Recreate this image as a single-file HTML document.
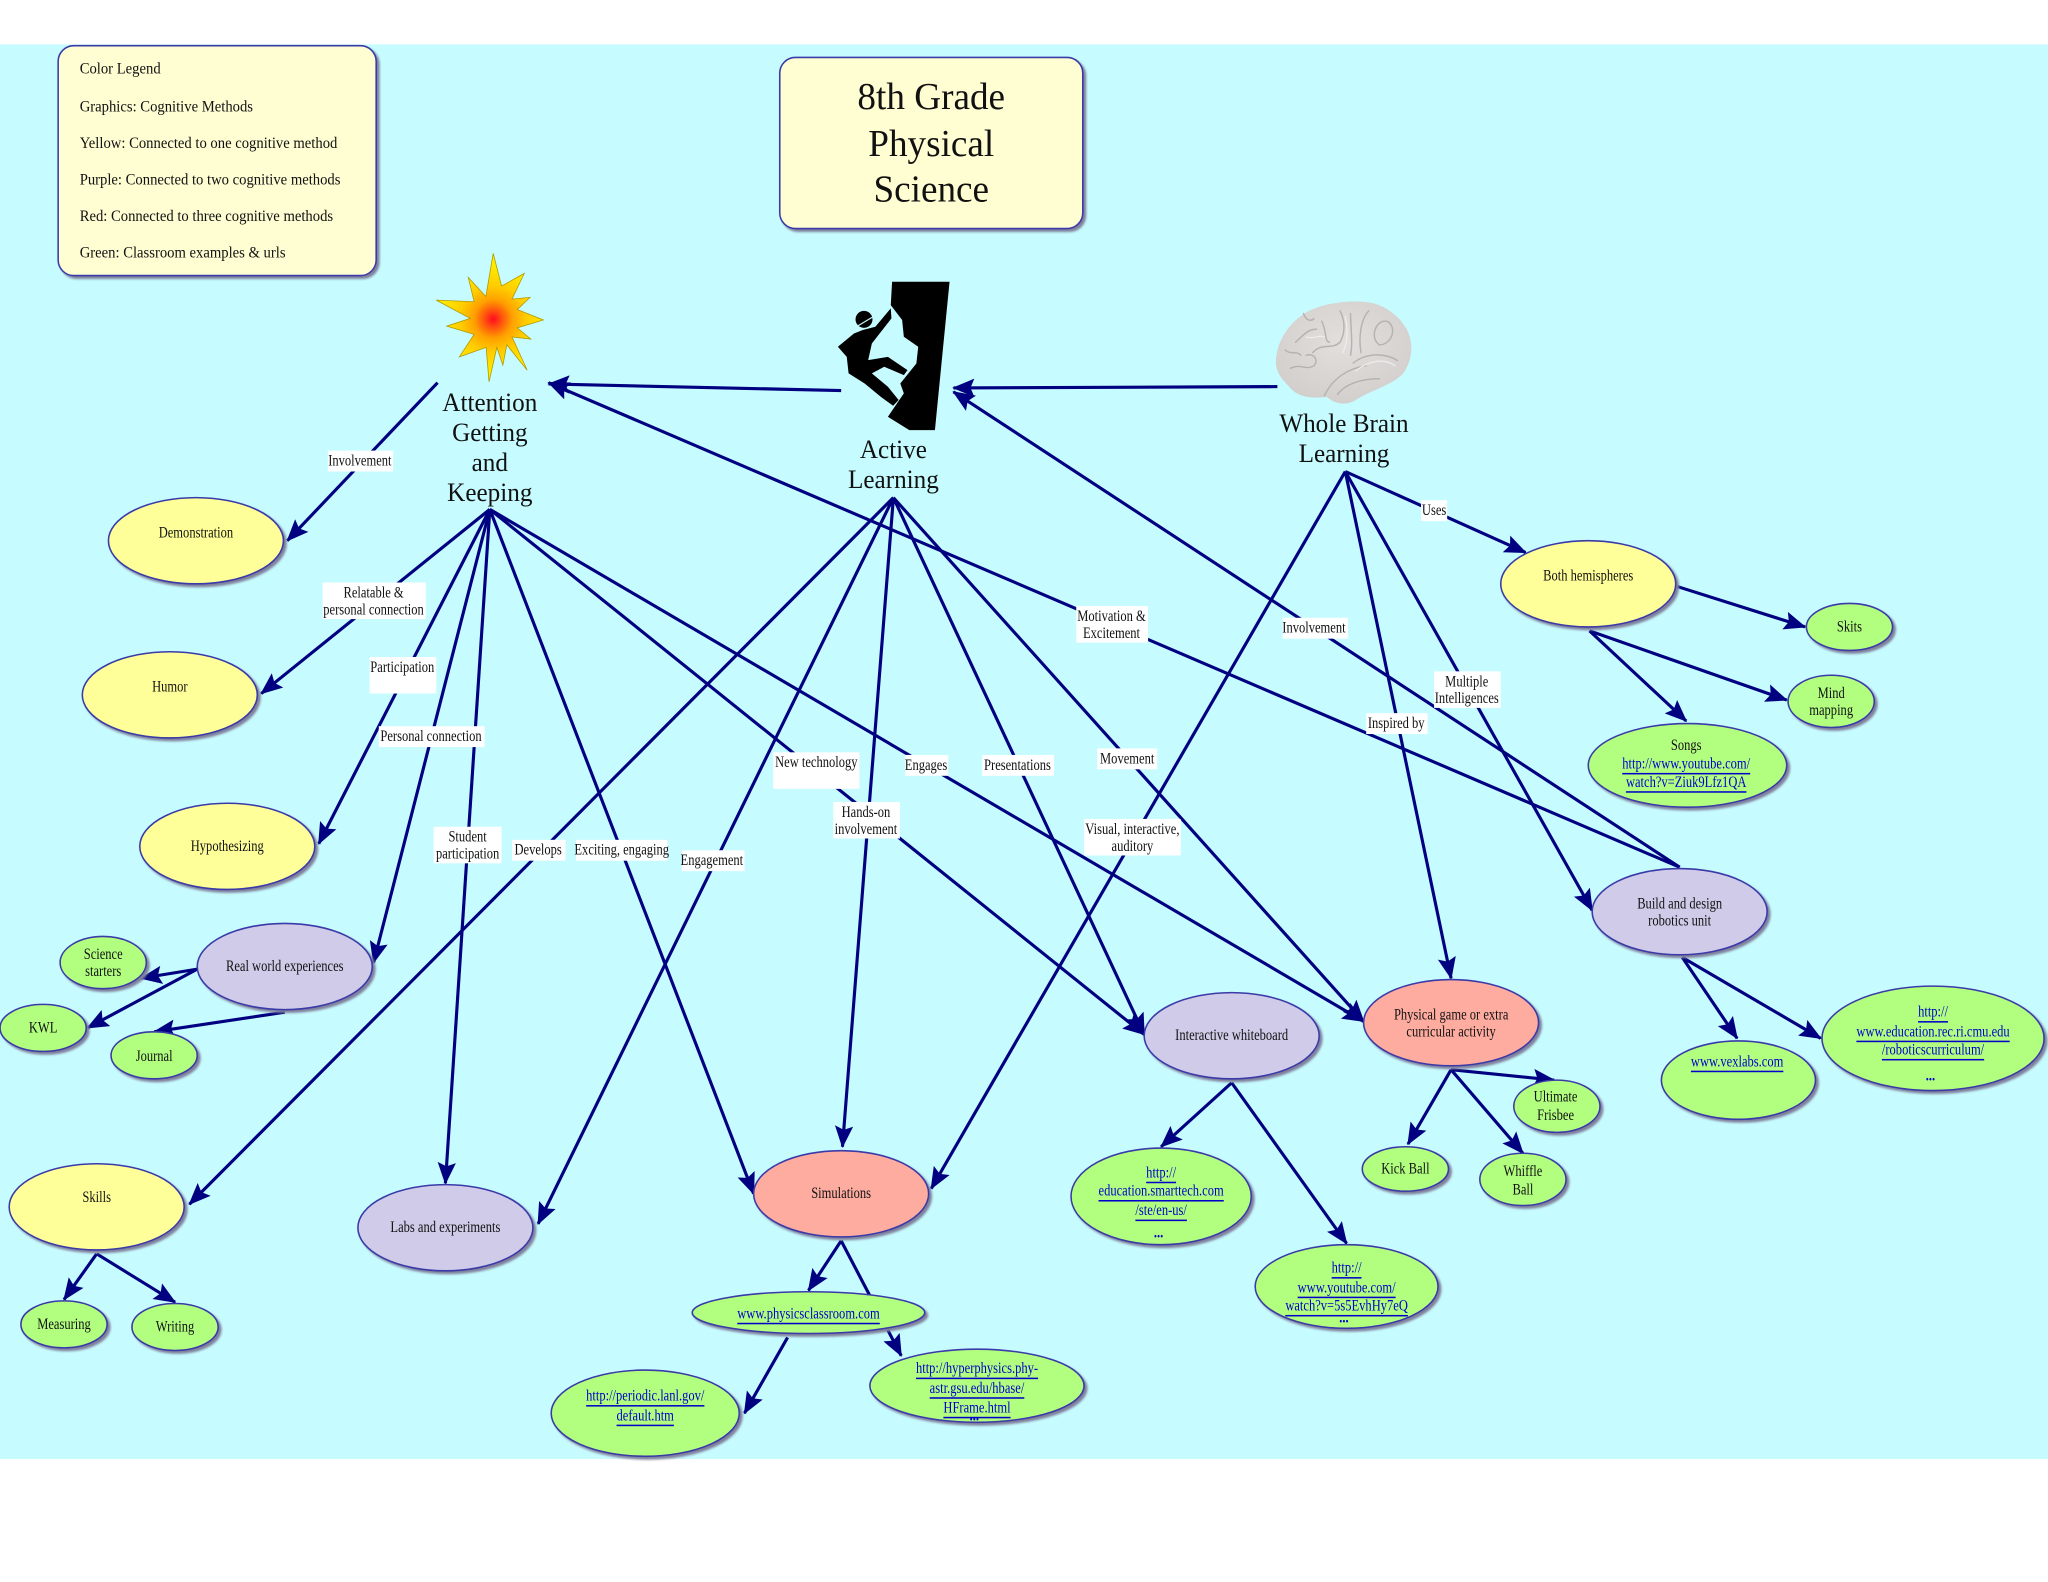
<!DOCTYPE html>
<html>
<head>
<meta charset="utf-8">
<title>8th Grade Physical Science</title>
<style>
html,body{margin:0;padding:0;background:#fff}
svg{display:block}
text{font-family:"Liberation Serif",serif;font-size:11.7px;fill:#111;text-anchor:middle;dominant-baseline:central;transform-box:fill-box;transform-origin:center;transform:translateY(.5px) scaleX(.82)}
.l text{text-anchor:start;font-size:12.2px;transform-origin:left center;transform:translateY(.7px) scaleX(.92)}
text.big{font-size:20.5px;transform:scaleX(.94)}
text.title{font-size:29.5px;transform:scaleX(.965)}
.u{fill:#0000c8;text-decoration:underline}
.dots{fill:#0000c8;font-weight:bold}
.n ellipse,.box{stroke:#3a3aa8;stroke-width:1.2;filter:drop-shadow(2.6px 2.6px .8px #80809c)}
.y{fill:#ffff99}.p{fill:#cfcbe8}.r{fill:#ffaca0}.g{fill:#b2ff80}
.e line{stroke:#000080;stroke-width:2.4;marker-end:url(#a)}
.w rect{fill:#fff}
</style>
</head>
<body>
<svg xmlns="http://www.w3.org/2000/svg" width="2048" height="1582" viewBox="0 0 1568 1211.25">
<defs>
<marker id="a" markerUnits="userSpaceOnUse" markerWidth="20" markerHeight="16" refX="16" refY="7" orient="auto">
<polygon points="0,0 17,7 0,14 3,7" fill="#000080"/>
</marker>
<radialGradient id="sg" gradientUnits="userSpaceOnUse" cx="377.6" cy="244.3" r="42">
<stop offset="0" stop-color="#ff0a20"/><stop offset=".14" stop-color="#ff4a10"/><stop offset=".35" stop-color="#ffa000"/><stop offset=".6" stop-color="#ffcc00"/><stop offset="1" stop-color="#ffee00"/>
</radialGradient>
<radialGradient id="bg" cx=".5" cy=".4" r=".7">
<stop offset="0" stop-color="#e2dfdd"/><stop offset="1" stop-color="#d0ccca"/>
</radialGradient>
</defs>

<rect x="0" y="34" width="1568" height="1083" fill="#c6fbff"/>

<g class="e">
<line x1="335" y1="293" x2="220" y2="414"/>
<line x1="375" y1="390" x2="200" y2="531"/>
<line x1="375" y1="390" x2="244" y2="646"/>
<line x1="375" y1="390" x2="286" y2="737"/>
<line x1="375" y1="390" x2="341" y2="906"/>
<line x1="375" y1="390" x2="577" y2="914"/>
<line x1="375" y1="390" x2="876" y2="792"/>
<line x1="375" y1="390" x2="1044" y2="782"/>
<line x1="684" y1="381" x2="145" y2="922"/>
<line x1="684" y1="381" x2="412" y2="937"/>
<line x1="684" y1="381" x2="645" y2="878"/>
<line x1="684" y1="381" x2="876" y2="792"/>
<line x1="684" y1="381" x2="1044" y2="782"/>
<line x1="644" y1="299" x2="420" y2="294"/>
<line x1="978" y1="296" x2="730" y2="297"/>
<line x1="1030" y1="361" x2="713" y2="910"/>
<line x1="1030" y1="361" x2="1111" y2="749"/>
<line x1="1030" y1="361" x2="1219" y2="697"/>
<line x1="1030" y1="361" x2="1168" y2="423"/>
<line x1="1286" y1="664" x2="730" y2="300"/>
<line x1="1286" y1="664" x2="420" y2="293"/>
<line x1="151" y1="742" x2="108" y2="749"/>
<line x1="151" y1="742" x2="67" y2="787"/>
<line x1="218" y1="775" x2="118" y2="790"/>
<line x1="74" y1="960" x2="49" y2="995"/>
<line x1="74" y1="960" x2="134" y2="997"/>
<line x1="644" y1="950" x2="619" y2="988"/>
<line x1="644" y1="950" x2="690" y2="1038"/>
<line x1="603" y1="1024" x2="570" y2="1082"/>
<line x1="943" y1="829" x2="889" y2="878"/>
<line x1="943" y1="829" x2="1031" y2="952"/>
<line x1="1111" y1="819" x2="1190" y2="827"/>
<line x1="1111" y1="819" x2="1078" y2="876"/>
<line x1="1111" y1="819" x2="1166" y2="883"/>
<line x1="1288" y1="733" x2="1330" y2="795"/>
<line x1="1288" y1="733" x2="1394" y2="795"/>
<line x1="1284" y1="449" x2="1382" y2="480"/>
<line x1="1217" y1="483" x2="1368" y2="536"/>
<line x1="1217" y1="483" x2="1291" y2="552"/>
</g>

<g class="w">
<rect x="251" y="345" width="50" height="16"/>
<rect x="247" y="446" width="79" height="28"/>
<rect x="283" y="503" width="51" height="28"/>
<rect x="290" y="556" width="81" height="16"/>
<rect x="332" y="633" width="52" height="28"/>
<rect x="392" y="643" width="41" height="16"/>
<rect x="441" y="643" width="70" height="16"/>
<rect x="522" y="651" width="48" height="16"/>
<rect x="592" y="576" width="66" height="28"/>
<rect x="638" y="614" width="51" height="28"/>
<rect x="693" y="578" width="33" height="16"/>
<rect x="752" y="578" width="55" height="16"/>
<rect x="840" y="573" width="46" height="16"/>
<rect x="830" y="627" width="74" height="28"/>
<rect x="824" y="464" width="55" height="28"/>
<rect x="982" y="473" width="50" height="16"/>
<rect x="1046" y="546" width="47" height="16"/>
<rect x="1098" y="514" width="51" height="28"/>
<rect x="1088" y="383" width="20" height="16"/>
</g>

<g>
<text x="275.5" y="353">Involvement</text>
<text x="286" y="454">Relatable &amp;</text><text x="286" y="467">personal connection</text>
<text x="308" y="511">Participation</text>
<text x="330" y="564">Personal connection</text>
<text x="358" y="641">Student</text><text x="358" y="654">participation</text>
<text x="412" y="651">Develops</text>
<text x="476" y="651">Exciting, engaging</text>
<text x="545" y="659">Engagement</text>
<text x="625" y="584">New technology</text>
<text x="663" y="622">Hands-on</text><text x="663" y="635">involvement</text>
<text x="709" y="586">Engages</text>
<text x="779" y="586">Presentations</text>
<text x="863" y="581">Movement</text>
<text x="867" y="635">Visual, interactive,</text><text x="867" y="648">auditory</text>
<text x="851" y="472">Motivation &amp;</text><text x="851" y="485">Excitement</text>
<text x="1006" y="481">Involvement</text>
<text x="1069" y="554">Inspired by</text>
<text x="1123" y="522">Multiple</text><text x="1123" y="535">Intelligences</text>
<text x="1098" y="391">Uses</text>
</g>

<g class="n">
<ellipse class="y" cx="150" cy="414" rx="67" ry="33"/>
<ellipse class="y" cx="130" cy="532" rx="67" ry="33"/>
<ellipse class="y" cx="174" cy="648" rx="67" ry="33"/>
<ellipse class="p" cx="218" cy="740" rx="67" ry="33"/>
<ellipse class="g" cx="79" cy="737" rx="33" ry="20"/>
<ellipse class="g" cx="33" cy="787" rx="33" ry="18"/>
<ellipse class="g" cx="118" cy="808" rx="33" ry="18"/>
<ellipse class="y" cx="74" cy="924" rx="67" ry="33"/>
<ellipse class="g" cx="49" cy="1014" rx="33" ry="18"/>
<ellipse class="g" cx="134" cy="1016" rx="33" ry="18"/>
<ellipse class="p" cx="341" cy="940" rx="67" ry="33"/>
<ellipse class="r" cx="644" cy="914" rx="67" ry="33"/>
<ellipse class="g" cx="619" cy="1005" rx="89" ry="16"/>
<ellipse class="g" cx="494" cy="1082" rx="72" ry="33"/>
<ellipse class="g" cx="748" cy="1061" rx="82" ry="28"/>
<ellipse class="p" cx="943" cy="793" rx="67" ry="33"/>
<ellipse class="g" cx="889" cy="916" rx="69" ry="37"/>
<ellipse class="g" cx="1031" cy="985" rx="70" ry="32"/>
<ellipse class="r" cx="1111" cy="783" rx="67" ry="33"/>
<ellipse class="g" cx="1192" cy="847" rx="33" ry="20"/>
<ellipse class="g" cx="1076" cy="895" rx="33" ry="17"/>
<ellipse class="g" cx="1166" cy="903" rx="33" ry="20"/>
<ellipse class="p" cx="1286" cy="698" rx="67" ry="33"/>
<ellipse class="g" cx="1331" cy="827" rx="59" ry="30"/>
<ellipse class="g" cx="1480" cy="795" rx="85" ry="40"/>
<ellipse class="y" cx="1216" cy="447" rx="67" ry="33"/>
<ellipse class="g" cx="1416" cy="480" rx="33" ry="18"/>
<ellipse class="g" cx="1402" cy="537" rx="33" ry="20"/>
<ellipse class="g" cx="1292" cy="586" rx="76" ry="32"/>
</g>

<g>
<text x="150" y="408">Demonstration</text>
<text x="130" y="526">Humor</text>
<text x="174" y="648">Hypothesizing</text>
<text x="218" y="740">Real world experiences</text>
<text x="79" y="731">Science</text><text x="79" y="744">starters</text>
<text x="33" y="787">KWL</text>
<text x="118" y="809">Journal</text>
<text x="74" y="917">Skills</text>
<text x="49" y="1014">Measuring</text>
<text x="134" y="1016">Writing</text>
<text x="341" y="940">Labs and experiments</text>
<text x="644" y="914">Simulations</text>
<text class="u" x="619" y="1006">www.physicsclassroom.com</text>
<text class="u" x="494" y="1069">http://periodic.lanl.gov/</text><text class="u" x="494" y="1084">default.htm</text>
<text class="u" x="748" y="1048">http://hyperphysics.phy-</text><text class="u" x="748" y="1063">astr.gsu.edu/hbase/</text><text class="u" x="748" y="1078">HFrame.html</text><text class="dots" x="746" y="1084">...</text>
<text x="943" y="793">Interactive whiteboard</text>
<text class="u" x="889" y="898">http://</text><text class="u" x="889" y="912">education.smarttech.com</text><text class="u" x="889" y="927">/ste/en-us/</text><text class="dots" x="887" y="944">...</text>
<text class="u" x="1031" y="971">http://</text><text class="u" x="1031" y="986">www.youtube.com/</text><text class="u" x="1031" y="1000">watch?v=5s5EvhHy7eQ</text><text class="dots" x="1029" y="1009">...</text>
<text x="1111" y="777">Physical game or extra</text><text x="1111" y="790">curricular activity</text>
<text x="1191" y="840">Ultimate</text><text x="1191" y="854">Frisbee</text>
<text x="1076" y="895">Kick Ball</text>
<text x="1166" y="897">Whiffle</text><text x="1166" y="911">Ball</text>
<text x="1286" y="692">Build and design</text><text x="1286" y="705">robotics unit</text>
<text class="u" x="1330" y="813">www.vexlabs.com</text>
<text class="u" x="1480" y="775">http://</text><text class="u" x="1480" y="790">www.education.rec.ri.cmu.edu</text><text class="u" x="1480" y="804">/roboticscurriculum/</text><text class="dots" x="1478" y="824">...</text>
<text x="1216" y="441">Both hemispheres</text>
<text x="1416" y="480">Skits</text>
<text x="1402" y="531">Mind</text><text x="1402" y="544">mapping</text>
<text x="1291" y="571">Songs</text><text class="u" x="1291" y="585">http://www.youtube.com/</text><text class="u" x="1291" y="599">watch?v=Ziuk9Lfz1QA</text>
</g>

<rect class="box" x="44.5" y="35" width="243.5" height="176" rx="12" fill="#fffdd2"/>
<g class="l">
<text x="61" y="52">Color Legend</text>
<text x="61" y="81">Graphics: Cognitive Methods</text>
<text x="61" y="109">Yellow: Connected to one cognitive method</text>
<text x="61" y="137">Purple: Connected to two cognitive methods</text>
<text x="61" y="165">Red: Connected to three cognitive methods</text>
<text x="61" y="193">Green: Classroom examples &amp; urls</text>
</g>

<rect class="box" x="597" y="44" width="232" height="131" rx="12" fill="#fffdd2"/>
<text class="title" x="713" y="74">8th Grade</text>
<text class="title" x="713" y="110">Physical</text>
<text class="title" x="713" y="145">Science</text>

<polygon fill="url(#sg)" stroke="#b09800" stroke-width=".6" points="377.6,194 384,219 401.4,209.3 392,229 405.8,227.7 396,237 416,245 396,251 406.4,259.6 392,258 403.6,283.4 388,264 385,279.5 380.4,266 374.4,292.3 372.2,266 351.7,273.2 363,256 342,249.7 360,243.8 334,229.8 363,231 358.5,212.4 372,227"/>
<text class="big" x="375" y="308">Attention</text>
<text class="big" x="375" y="331">Getting</text>
<text class="big" x="375" y="354">and</text>
<text class="big" x="375" y="377">Keeping</text>

<polygon fill="#000" points="683,215.7 727,215.7 715.8,329.3 696.2,329.3 679.8,319.1 692,301.2 689.3,293.6 701.6,278.3 703,265.5 692,257.8 690.7,245 682,233.6"/>
<polygon fill="#000" points="653.8,255.3 660.6,252.7 670.2,250.2 682,236.1 682.5,243.8 667.5,263 664.7,275.7 679.8,273.2 694.8,283.4 692,287.2 677,280.8 667.5,285.9 679.8,296.1 688,306.3 683.8,310.7 674.3,303.8 662,293.6 649.7,285.9 648.3,273.2 641.5,265.5"/>
<ellipse cx="661.5" cy="244.5" rx="6.5" ry="6.5" fill="#000"/>
<line x1="656" y1="250" x2="671" y2="241" stroke="#c6fbff" stroke-width=".9"/>
<text class="big" x="684" y="344">Active</text>
<text class="big" x="684" y="367">Learning</text>

<path fill="url(#bg)" d="M977,275 C978,262 985,250 996,242 C1006,234 1025,230 1044,231 C1058,232 1070,240 1077,252 C1082,262 1082,274 1075,285 C1068,294 1052,298 1040,305 C1033,310 1024,311 1016,304 C1006,305 994,305 987,296 C981,290 976,284 977,275 Z"/>
<g fill="none" stroke="#b6b2b0" stroke-width="1.1" stroke-linecap="round">
<path d="M1005,270 C1012,262 1020,268 1026,262 C1030,255 1030,246 1026,238"/>
<path d="M1036,278 C1046,270 1060,270 1070,276"/>
<path d="M1042,270 C1040,258 1042,244 1048,238"/>
<path d="M1056,264 C1048,258 1054,244 1062,246 C1070,250 1066,264 1056,264"/>
<path d="M1014,303 C1020,290 1032,282 1046,280"/>
<path d="M1024,302 C1030,294 1042,290 1056,290"/>
<path d="M992,262 C998,256 1002,252 1008,252"/>
<path d="M988,282 C996,278 1000,284 1006,280 C1010,276 1006,270 1000,272"/>
<path d="M1012,246 C1016,254 1014,262 1018,262"/>
<path d="M1034,240 C1034,250 1036,262 1034,272"/>
<path d="M984,268 C988,272 992,268 996,272"/>
<path d="M998,240 C1000,246 1004,246 1006,244"/>
</g>
<g fill="none" stroke="#f0eeec" stroke-width=".9" stroke-linecap="round">
<path d="M1030,242 C1032,252 1032,262 1028,270"/>
<path d="M1038,284 C1048,276 1060,274 1068,280"/>
<path d="M1000,258 C1006,260 1010,256 1014,258"/>
</g>
<text class="big" x="1029" y="324">Whole Brain</text>
<text class="big" x="1029" y="347">Learning</text>
</svg>
</body>
</html>
